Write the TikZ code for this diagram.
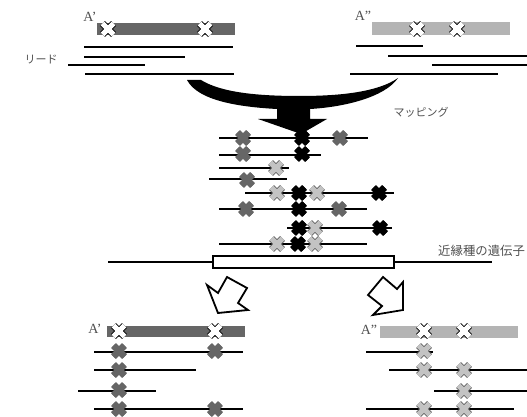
\documentclass[tikz,border=0pt]{standalone}
\usepackage{fontspec}
\setmainfont{Liberation Serif}
\newfontfamily\jpfont{Noto Sans CJK JP}
\usepackage{xcolor}
\definecolor{darkbar}{RGB}{102,102,102}
\definecolor{lightbar}{RGB}{180,180,180}
\definecolor{mutlight}{RGB}{195,195,195}
\definecolor{labelgray}{RGB}{80,80,80}

% base change cross: x, y, fill, edge
\newcommand{\mutX}[4]{%
	\draw[color=#4, line width=7pt] ({#1-5.5},{#2-5.5}) -- ({#1+5.5},{#2+5.5}) ({#1-5.5},{#2+5.5}) -- ({#1+5.5},{#2-5.5});
	\draw[color=#3, line width=5pt] ({#1-5.5},{#2-5.5}) -- ({#1+5.5},{#2+5.5}) ({#1-5.5},{#2+5.5}) -- ({#1+5.5},{#2-5.5});
}

\begin{document}
\begin{tikzpicture}[x=1pt, y=-1pt,
	read/.style={line width=1.3pt},
	lab/.style={text=labelgray, inner sep=0pt, font=\fontsize{14}{14}\selectfont},
	jplab/.style={text=labelgray, inner sep=0pt, font=\jpfont\fontsize{11}{11}\selectfont},
	blockarrow/.style={draw, fill=white, line width=1.8pt, line join=miter}]
\useasboundingbox (0,0) rectangle (527,417);

% haplotypes and their reads
\node[lab] (hapA) at (90,17) {A’};
\node[lab] (hapB) at (363,16) {A”};
\fill[darkbar] (97,23) rectangle (235,35);
\fill[lightbar] (372,22) rectangle (510,35);
\node[jplab] (reads) at (41,60) {リード};
\foreach \xa/\xb/\y in {84/233/47, 84/185/57, 68/145/65, 85/234/74,
	356/423/46, 388/527/56, 432/527/65, 350/498/74}{
	\draw[read] (\xa,\y) -- (\xb,\y);
	}

% mapping arrow
\fill[black] (187,80) -- (201,80) .. controls (222,93) and (260,96) .. (300,96)
	.. controls (340,96) and (378,92) .. (398,78)
	.. controls (385,97) and (345,107) .. (310,109) -- (310,119) -- (327,119) -- (301,134)
	-- (258,119) -- (277,119) -- (277,109) .. controls (240,107) and (198,101) .. (187,80) -- cycle;
\node[jplab] (mapping) at (421,112) {マッピング};

% mapped reads
\foreach \xa/\xb/\y in {219/368/138, 219/321/155, 219/289/168, 209/287/179,
	245/394/193, 219/367/209, 287/392/228, 219/367/244}{
	\draw[read] (\xa,\y) -- (\xb,\y);
	}

% gene of the related species
\draw[line width=1.6pt] (108,262) -- (213,262) (394,262) -- (492,262);
\draw[line width=1.6pt, fill=white] (213,256) rectangle (394,268);
\node[anchor=west, jplab, font=\jpfont\fontsize{12.4}{12.4}\selectfont] (gene) at (438,251) {近縁種の遺伝子};

% split into the two haplotypes
\draw[blockarrow] (207,285) -- (218,293) -- (227,277) -- (247,288) -- (238,303) -- (248,310) -- (218,313) -- cycle;
\draw[blockarrow] (383,277) -- (397,289) -- (403,282) -- (403,310) -- (373,315) -- (382,306) -- (368,295) -- cycle;

\node[lab] (resA) at (95,329) {A’};
\node[lab] (resB) at (369,330) {A”};
\fill[darkbar] (107,326) rectangle (245,337);
\fill[lightbar] (380,326) rectangle (518,338);
\foreach \xa/\xb/\y in {94/243/352, 94/196/370, 78/156/391, 94/243/409,
	366/433/352, 389/527/370, 434/527/391, 366/514/409}{
	\draw[read] (\xa,\y) -- (\xb,\y);
	}

% crosses
\foreach \x/\y in {108/29, 205/29, 417/29, 457/29, 119/331, 215/331, 424/331, 464/331}{
	\mutX{\x}{\y}{white}{black}
	}
\foreach \x/\y in {243/138, 340/138, 243/154, 247/180, 246/209, 339/209,
	119/351, 215/351, 119/370, 119/390, 119/409, 215/409}{
	\mutX{\x}{\y}{darkbar}{darkbar}
	}
\foreach \x/\y in {302/138, 302/154, 299/193, 379/193, 299/209, 299/228, 380/228, 298/244}{
	\mutX{\x}{\y}{black}{black}
	}
\foreach \x/\y in {276/168, 277/193, 317/193, 315/228, 277/244, 315/244,
	424/351, 424/370, 464/370, 464/391, 424/409, 464/409}{
	\mutX{\x}{\y}{mutlight}{darkbar}
	}
\end{tikzpicture}
\end{document}
